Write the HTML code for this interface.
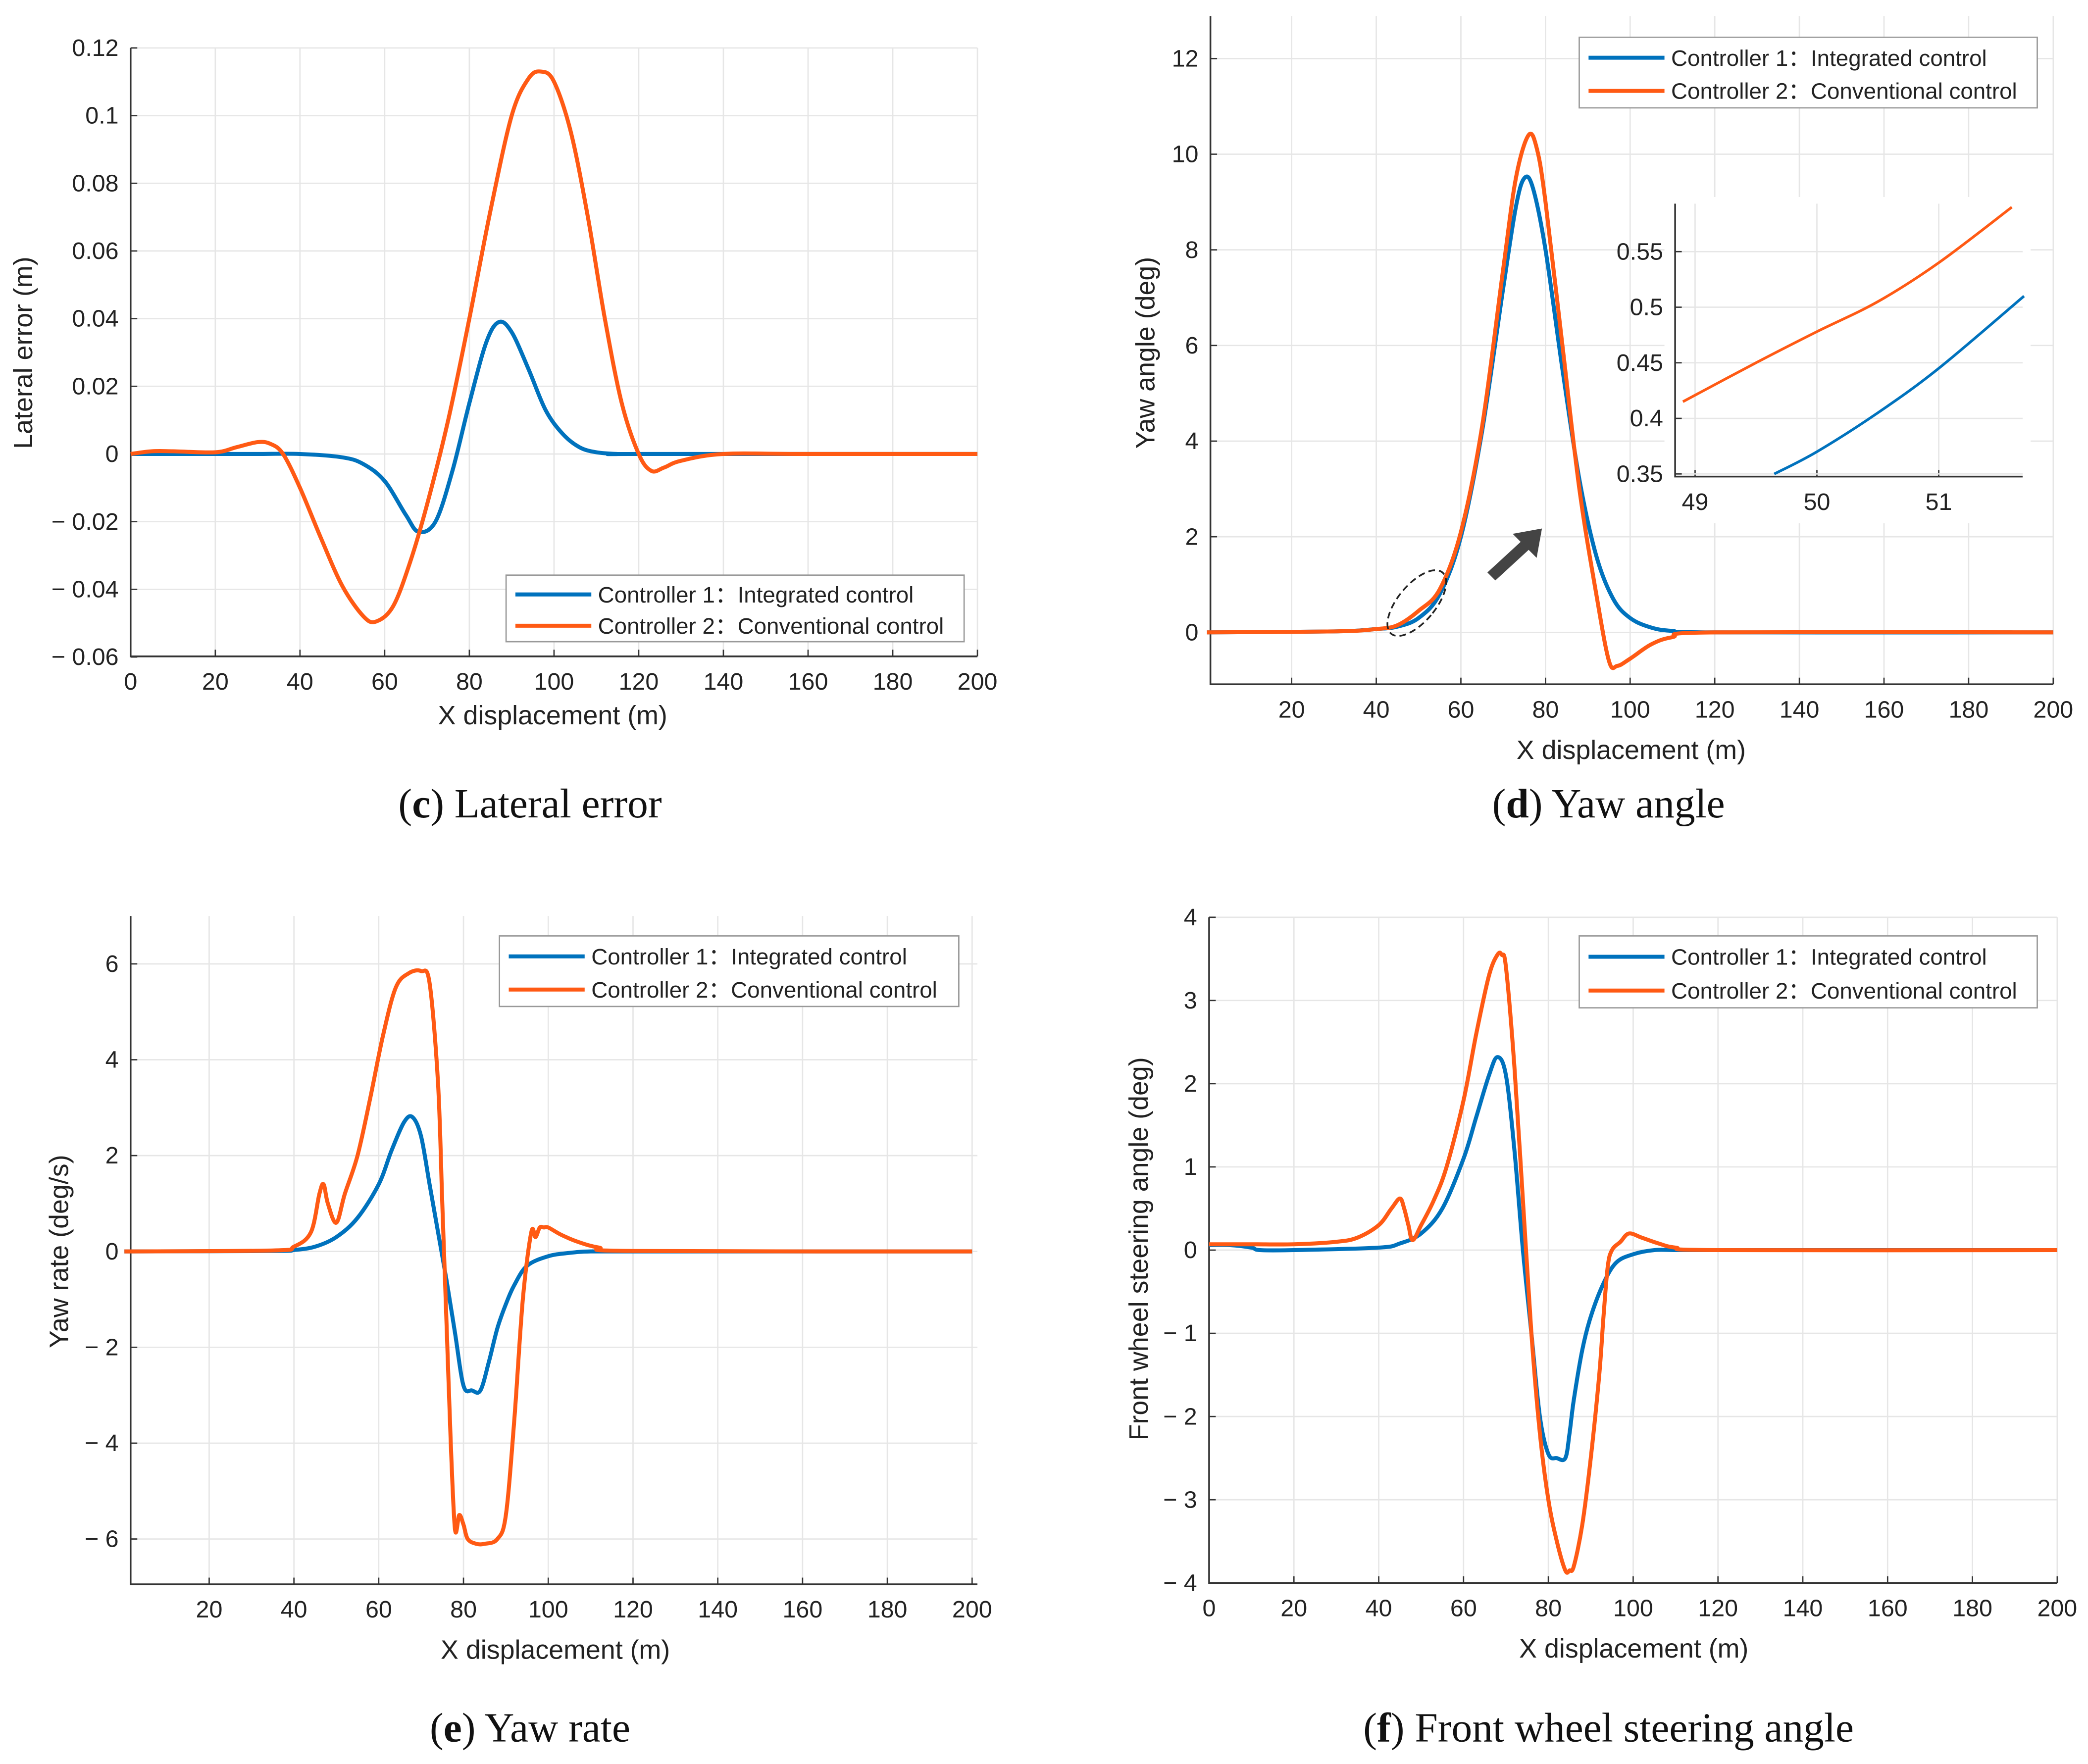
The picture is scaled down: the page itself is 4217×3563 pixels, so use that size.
<!DOCTYPE html>
<html><head><meta charset="utf-8"><style>
html,body{margin:0;padding:0;background:#fff;}
svg{display:block;font-family:"Liberation Sans",sans-serif;}
</style></head><body>
<svg id="s" width="4217" height="3563" viewBox="0 0 1568 1325" xmlns="http://www.w3.org/2000/svg"></svg>
<script>
// ---- data ----
const cBlueX=[0,20,30,40,50,55,60,65,68,72,76,80,84,87,90,94,98,102,106,110,115,120,200];
const cBlueY=[0,0,0,0,-0.001,-0.003,-0.008,-0.018,-0.023,-0.02,-0.005,0.015,0.033,0.039,0.036,0.025,0.013,0.006,0.002,0.0005,0,0,0];
const cOrX=[0,5,10,20,25,30,33,36,40,45,50,55,58,62,66,70,75,80,85,90,94,97,100,104,108,112,116,120,123,126,130,140,160,200];
const cOrY=[0,0.0008,0.0008,0.0005,0.002,0.0035,0.003,0,-0.01,-0.025,-0.039,-0.048,-0.0495,-0.045,-0.032,-0.015,0.01,0.04,0.072,0.1,0.111,0.113,0.11,0.095,0.07,0.04,0.015,0,-0.005,-0.004,-0.002,0,0,0];
const dBlueX=[0,30,40,45,50,55,60,65,70,73,75,77,80,84,88,92,96,100,105,110,120,200];
const dBlueY=[0,0.02,0.07,0.12,0.3,0.8,2.0,4.2,7.2,8.9,9.5,9.3,8.0,5.5,3.2,1.6,0.7,0.3,0.1,0.03,0,0];
const dOrX=[0,30,40,45,50,55,60,65,70,73,76,78,80,84,88,92,95,97,100,105,110,120,200];
const dOrY=[0,0.02,0.07,0.15,0.45,0.9,2.1,4.3,7.6,9.5,10.4,10.1,9.0,6.0,3.0,0.8,-0.6,-0.7,-0.55,-0.25,-0.1,0,0];
const inBlueX=[49.65,50,50.5,51,51.7];
const inBlueY=[0.35,0.37,0.405,0.445,0.51];
const inOrX=[48.9,49.5,50,50.5,51,51.6];
const inOrY=[0.415,0.45,0.478,0.505,0.54,0.59];
const eBlueX=[0,35,40,45,50,55,60,63,66,68,70,72,74,76,78,80,82,84,86,88,90,92,95,100,105,110,120,200];
const eBlueY=[0,0.01,0.03,0.1,0.3,0.7,1.4,2.1,2.7,2.8,2.4,1.4,0.4,-0.6,-1.7,-2.8,-2.9,-2.9,-2.3,-1.6,-1.1,-0.7,-0.3,-0.1,-0.03,0,0,0];
const eOrX=[0,35,40,44,46,47,48,50,52,55,58,61,64,67,70,72,74,75,76,77,78,79,80,81,83,85,88,90,92,94,96,97,98,99,100,103,107,112,120,200];
const eOrY=[0,0.02,0.1,0.4,1.2,1.4,1.0,0.6,1.2,2.0,3.2,4.5,5.5,5.8,5.85,5.6,3.5,1.0,-1.5,-4,-5.8,-5.5,-5.7,-6.0,-6.1,-6.1,-6.0,-5.5,-3.5,-1.0,0.4,0.3,0.5,0.5,0.5,0.35,0.2,0.08,0.01,0];
const fBlueX=[0,5,10,12,20,40,45,50,55,60,63,66,68,70,72,74,76,78,80,82,84,85,86,88,90,93,96,100,105,110,120,200];
const fBlueY=[0.06,0.06,0.03,0,0,0.03,0.08,0.2,0.5,1.1,1.6,2.1,2.32,2.1,1.2,0,-1.0,-2.0,-2.45,-2.5,-2.5,-2.2,-1.8,-1.2,-0.8,-0.4,-0.15,-0.05,0,0,0,0];
const fOrX=[0,10,20,30,35,40,43,45,46,47,48,50,53,56,60,63,66,68,69,70,72,74,76,78,80,82,84,85,86,88,90,92,93,94,95,97,99,102,106,110,120,200];
const fOrY=[0.07,0.07,0.07,0.1,0.15,0.3,0.5,0.62,0.5,0.3,0.12,0.3,0.6,1.0,1.8,2.6,3.3,3.55,3.55,3.4,2.2,0.6,-1,-2.2,-3.0,-3.5,-3.85,-3.85,-3.8,-3.3,-2.5,-1.5,-0.8,-0.2,0,0.1,0.2,0.15,0.08,0.03,0,0];
const cXTicks=[0,20,40,60,80,100,120,140,160,180,200];
const cYTicks=[-0.06,-0.04,-0.02,0,0.02,0.04,0.06,0.08,0.1,0.12];
const cYLabels=["− 0.06","− 0.04","− 0.02","0","0.02","0.04","0.06","0.08","0.1","0.12"];
const dXTicks=[20,40,60,80,100,120,140,160,180,200];
const dYTicks=[0,2,4,6,8,10,12];
const eXTicks=[20,40,60,80,100,120,140,160,180,200];
const eYTicks=[-6,-4,-2,0,2,4,6];
const fXTicks=[0,20,40,60,80,100,120,140,160,180,200];
const fYTicks=[-4,-3,-2,-1,0,1,2,3,4];
const inXTicks=[49,50,51];
const inYTicks=[0.35,0.4,0.45,0.5,0.55];
const BLUE="#0072bd", ORANGE="#ff5a14";
// ---- helpers ----
const NS="http://www.w3.org/2000/svg";
const svg=document.getElementById('s');
function mk(tag,attrs,parent,txt){const e=document.createElementNS(NS,tag);for(const k in attrs)e.setAttribute(k,attrs[k]);if(txt!==undefined)e.textContent=txt;(parent||svg).appendChild(e);return e;}
function lin(d0,d1,r0,r1){return v=>r0+(v-d0)*(r1-r0)/(d1-d0);}
function smooth(pts){let d="M"+pts[0][0].toFixed(2)+","+pts[0][1].toFixed(2);
 for(let i=0;i<pts.length-1;i++){const p0=pts[Math.max(0,i-1)],p1=pts[i],p2=pts[i+1],p3=pts[Math.min(pts.length-1,i+2)];
 const c1=[p1[0]+(p2[0]-p0[0])/6,p1[1]+(p2[1]-p0[1])/6],c2=[p2[0]-(p3[0]-p1[0])/6,p2[1]-(p3[1]-p1[1])/6];
 d+=" C"+c1.join(",")+" "+c2.join(",")+" "+p2.join(",");}return d;}
function series(g,xs,ys,sx,sy,color,name,w){
 const pts=xs.map((x,i)=>[sx(x),sy(ys[i])]);
 const p=mk('path',{d:smooth(pts),fill:'none',stroke:color,'stroke-width':w||3,'stroke-linejoin':'round'},g);
 
 
 return p;}
function panel(o){
 const g=mk('g',{},svg);
 
 
 const sx=lin(o.xd[0],o.xd[1],o.xr[0],o.xr[1]), sy=lin(o.yd[0],o.yd[1],o.yr[0],o.yr[1]);
 const L=o.box[0],R=o.box[1],T=o.box[2],B=o.box[3];
 o.xt.forEach(v=>{const x=sx(v);mk('line',{x1:x,x2:x,y1:T,y2:B,stroke:'#e6e6e6','stroke-width':1},g);
  mk('line',{x1:x,x2:x,y1:B,y2:B-5,stroke:'#333','stroke-width':1},g);
  const t=mk('text',{x:x,y:B+25,'text-anchor':'middle','font-size':o.fs||18,fill:'#222'},g,String(v));
  });
 o.yt.forEach((v,i)=>{const y=sy(v);mk('line',{x1:L,x2:R,y1:y,y2:y,stroke:'#e6e6e6','stroke-width':1},g);
  mk('line',{x1:L,x2:L+5,y1:y,y2:y,stroke:'#333','stroke-width':1},g);
  const lab=o.yl?o.yl[i]:(v<0?"− "+Math.abs(v):String(v));
  const t=mk('text',{x:L-9,y:y+6,'text-anchor':'end','font-size':o.fs||18,fill:'#222'},g,lab);
  });
 mk('path',{d:`M${L},${T}V${B}H${R}`,fill:'none',stroke:'#333','stroke-width':1.3},g);
 if(o.xlab){const t=mk('text',{x:o.xlab[1],y:o.xlab[2],'text-anchor':'middle','font-size':20,fill:'#222'},g,o.xlab[0]);
  }
 if(o.ylab){const t=mk('text',{x:0,y:0,transform:`translate(${o.ylab[1]},${o.ylab[2]}) rotate(-90)`,'text-anchor':'middle','font-size':20,fill:'#222'},g,o.ylab[0]);
  }
 series(g,o.bx,o.by,sx,sy,BLUE,'series-controller-1',o.lw);
 series(g,o.ox,o.oy,sx,sy,ORANGE,'series-controller-2',o.lw);
 if(o.leg){const [lx,ly,lw,lh]=o.leg;const lg=mk('g',{},g);
  
  mk('rect',{x:lx,y:ly,width:lw,height:lh,fill:'#fff',stroke:'#999','stroke-width':1},lg);
  [["Controller 1：Integrated control",BLUE],["Controller 2：Conventional control",ORANGE]].forEach((e,i)=>{
   const y=ly+lh*(0.29+0.47*i);
   const le=mk('g',{},lg);
   mk('line',{x1:lx+7,x2:lx+64,y1:y,y2:y,stroke:e[1],'stroke-width':3},le);
   mk('text',{x:lx+69,y:y+6,'font-size':17,fill:'#222','font-family':'"Liberation Sans","Noto Sans CJK SC",sans-serif'},le,e[0]);});}
 return {g,sx,sy};}
function caption(letter,rest,x,y){const t=mk('text',{x:x,y:y,'text-anchor':'middle','font-size':31,'font-family':'"Liberation Serif",serif',fill:'#111'});
 
 mk('tspan',{},t,'(');mk('tspan',{'font-weight':'bold'},t,letter);mk('tspan',{},t,') '+rest);}
// ---- panels ----
panel({name:'lateral-error-chart',xd:[0,200],xr:[98,734],yd:[0,0.12],yr:[341,36],box:[98,734,36,493],xt:cXTicks,yt:cYTicks,yl:cYLabels,
 xlab:['X displacement (m)',415,544],ylab:['Lateral error (m)',24,265],bx:cBlueX,by:cBlueY,ox:cOrX,oy:cOrY,leg:[380,432,344,50]});
panel({name:'yaw-angle-chart',xd:[20,200],xr:[970,1542],yd:[0,12],yr:[475,44],box:[909,1542,12,514],xt:dXTicks,yt:dYTicks,
 xlab:['X displacement (m)',1225,570],ylab:['Yaw angle (deg)',867,265],bx:dBlueX,by:dBlueY,ox:dOrX,oy:dOrY,leg:[1186,28,344,53]});
panel({name:'yaw-rate-chart',xd:[20,200],xr:[157,730],yd:[0,6],yr:[940,724],box:[98,734,688,1190],xt:eXTicks,yt:eYTicks,
 xlab:['X displacement (m)',417,1246],ylab:['Yaw rate (deg/s)',51,940],bx:eBlueX,by:eBlueY,ox:eOrX,oy:eOrY,leg:[375,703,345,53]});
panel({name:'steering-angle-chart',xd:[0,200],xr:[908,1545],yd:[0,4],yr:[939,689],box:[908,1545,689,1189],xt:fXTicks,yt:fYTicks,
 xlab:['X displacement (m)',1227,1245],ylab:['Front wheel steering angle (deg)',862,938],bx:fBlueX,by:fBlueY,ox:fOrX,oy:fOrY,leg:[1186,703,344,54]});
// inset
const ib=mk('rect',{x:1250,y:148,width:275,height:245,fill:'#fff'});
panel({name:'yaw-angle-inset',xd:[49,51],xr:[1273,1456],yd:[0.35,0.55],yr:[356,189],box:[1258,1519,153,358],xt:inXTicks,yt:inYTicks,
 bx:inBlueX,by:inBlueY,ox:inOrX,oy:inOrY,lw:2,fs:18});
const el=mk('ellipse',{cx:1064,cy:453,rx:14,ry:30,transform:'rotate(40 1064 453)',fill:'none',stroke:'#222','stroke-width':1.3,'stroke-dasharray':'5,3'});

const ar=mk('polygon',{points:'1117,430 1142,407 1136,401 1158,397 1154,419 1148,413 1123,436',fill:'#444'});

caption('c','Lateral error',398,614);
caption('d','Yaw angle',1208,614);
caption('e','Yaw rate',398,1308);
caption('f','Front wheel steering angle',1208,1308);
</script>
</body></html>
